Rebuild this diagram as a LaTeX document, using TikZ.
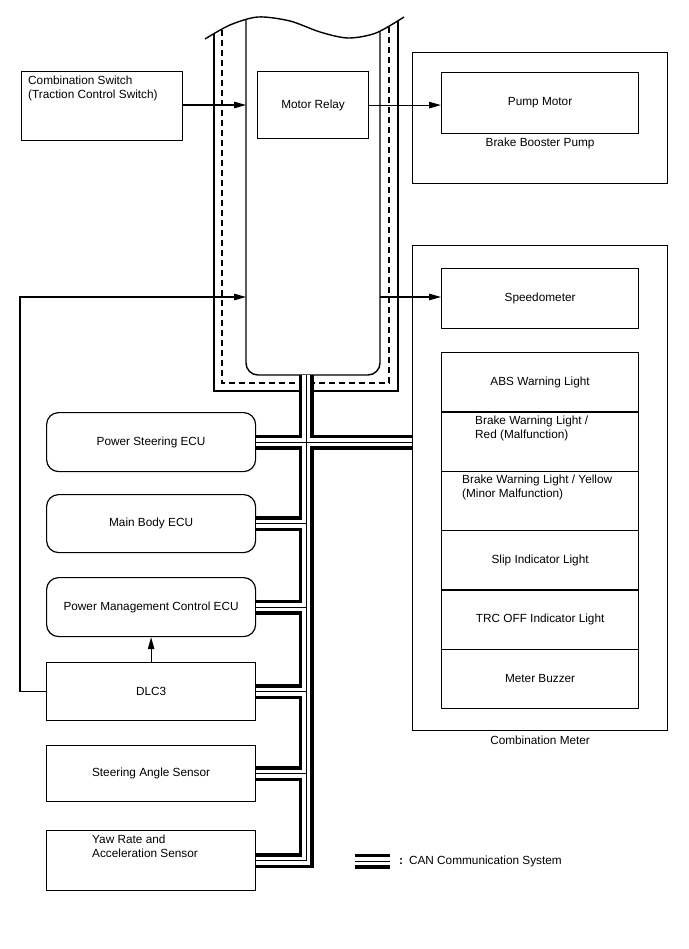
\documentclass[tikz,border=0pt]{standalone}
\usepackage{fontspec}
\setmainfont{Liberation Sans}
\usetikzlibrary{arrows.meta}

\newcommand{\diagfont}{\fontsize{11.8}{13.5}\selectfont}

\tikzset{
  blk/.style={draw, line width=1.2pt, inner sep=0pt, anchor=north west, align=center},
  ecu/.style={blk, rounded corners=12pt},
  txt/.style={inner sep=0pt, anchor=north west, align=left},
  sig/.style={line width=1.1pt, -{Triangle[length=12pt,width=6.5pt]}},
  frm/.style={line width=1.4pt},
  canbus/.style={preaction={draw=black, line width=15pt}, draw=white, line width=8pt,
                 postaction={draw=black, line width=1pt}}
}

\begin{document}
\begin{tikzpicture}[x=1pt, y=-1pt, every node/.append style={font=\diagfont}]

	\useasboundingbox (0,0) rectangle (688,949);

	% column with the wavy break on top
	\begin{scope}
		\clip plot[smooth] coordinates {(205,39) (230,25) (258,17) (290,21) (320,32) (348,38) (376,33) (404,17)} -- (404,400) -- (205,400) -- cycle;
		\draw[frm] (214,0) -- (214,391) -- (398,391) -- (398,0);
		\draw[frm, dash pattern=on 6pt off 4pt] (222,0) -- (222,383) -- (389,383) -- (389,0);
		\draw[frm, rounded corners=12pt] (246,0) -- (246,375) -- (380,375) -- (380,0);
	\end{scope}
	\draw[frm] plot[smooth] coordinates {(205,39) (230,25) (258,17) (290,21) (320,32) (348,38) (376,33) (404,17)};

	\coordinate (ecuW1) at (246,105);
	\coordinate (ecuW2) at (246,297);
	\coordinate (ecuE2) at (380,297);
	\coordinate (canTop) at (306,375);

	% inputs and outputs
	\node[blk, minimum width=161pt, minimum height=69pt] (comboSw) at (21,71) {};
	\node[txt] (comboSwTxt) at (28,76) {Combination Switch\\(Traction Control Switch)};
	\node[blk, minimum width=111pt, minimum height=67pt] (motorRelay) at (257,71) {Motor Relay};

	\node[blk, minimum width=255pt, minimum height=131pt] (boosterPump) at (412,52) {};
	\node[blk, minimum width=197pt, minimum height=61pt] (pumpMotor) at (441,72) {Pump Motor};
	\node[anchor=north, inner sep=0pt] (boosterLbl) at ([yshift=-4pt]pumpMotor.south) {Brake Booster Pump};

	\node[blk, minimum width=255pt, minimum height=485pt] (comboMeter) at (412,245) {};
	\node[anchor=north, inner sep=0pt] (meterLbl) at ([yshift=-5pt]comboMeter.south) {Combination Meter};
	\node[blk, minimum width=197pt, minimum height=60pt] (speedo) at (441,268) {Speedometer};

	\node[blk, minimum width=197pt, minimum height=59.333pt] (absLamp) at (441,352) {ABS Warning Light};
	\node[blk, minimum width=197pt, minimum height=59.333pt] (brakeRed) at (441,411.333) {};
	\node[txt] (brakeRedTxt) at (475,416) {Brake Warning Light /\\Red (Malfunction)};
	\node[blk, minimum width=197pt, minimum height=59.333pt] (brakeYel) at (441,470.667) {};
	\node[txt] (brakeYelTxt) at (462,475) {Brake Warning Light / Yellow\\(Minor Malfunction)};
	\node[blk, minimum width=197pt, minimum height=59.333pt] (slipLamp) at (441,530) {Slip Indicator Light};
	\node[blk, minimum width=197pt, minimum height=59.333pt] (trcLamp) at (441,589.333) {TRC OFF Indicator Light};
	\node[blk, minimum width=197pt, minimum height=59.333pt] (buzzer) at (441,648.667) {Meter Buzzer};

	% CAN nodes
	\node[ecu, minimum width=209pt, minimum height=59pt] (psEcu) at (46,412) {Power Steering ECU};
	\node[ecu, minimum width=209pt, minimum height=58pt] (mbEcu) at (46,494) {Main Body ECU};
	\node[ecu, minimum width=209pt, minimum height=59pt] (pmEcu) at (46,577) {Power Management Control ECU};
	\node[blk, minimum width=209pt, minimum height=58pt] (dlc) at (46,662) {DLC3};
	\node[blk, minimum width=209pt, minimum height=56pt] (sasSensor) at (46,745) {Steering Angle Sensor};
	\node[blk, minimum width=209pt, minimum height=60pt] (yawSensor) at (46,830) {};
	\node[txt] (yawTxt) at (92,835) {Yaw Rate and\\Acceleration Sensor};

	% CAN bus
	\draw[canbus] (canTop) -- (canTop |- yawSensor.east) -- (yawSensor.east)
		(psEcu.east) -- (psEcu.east -| comboMeter.west)
		(mbEcu.east) -- (mbEcu.east -| canTop)
		(pmEcu.east) -- (pmEcu.east -| canTop)
		(dlc.east) -- (dlc.east -| canTop)
		(sasSensor.east) -- (sasSensor.east -| canTop);

	% signal lines
	\draw[sig] (comboSw.east |- ecuW1) -- (ecuW1);
	\draw[sig] (motorRelay.east) -- (motorRelay.east -| pumpMotor.west);
	\draw[sig] (ecuE2) -- (ecuE2 -| speedo.west);
	\draw[sig] (dlc.west) -- ++(-26,0) |- (ecuW2);
	\draw[sig] (dlc.north) -- (pmEcu.south);

	% legend
	\coordinate (legL) at (355,861);
	\coordinate (legR) at (390,861);
	\draw[canbus] (legL) -- (legR);
	\node[anchor=west, inner sep=0pt] (legTxt) at ([xshift=9pt]legR) {\textbf{:}\enspace CAN Communication System};

\end{tikzpicture}
\end{document}
